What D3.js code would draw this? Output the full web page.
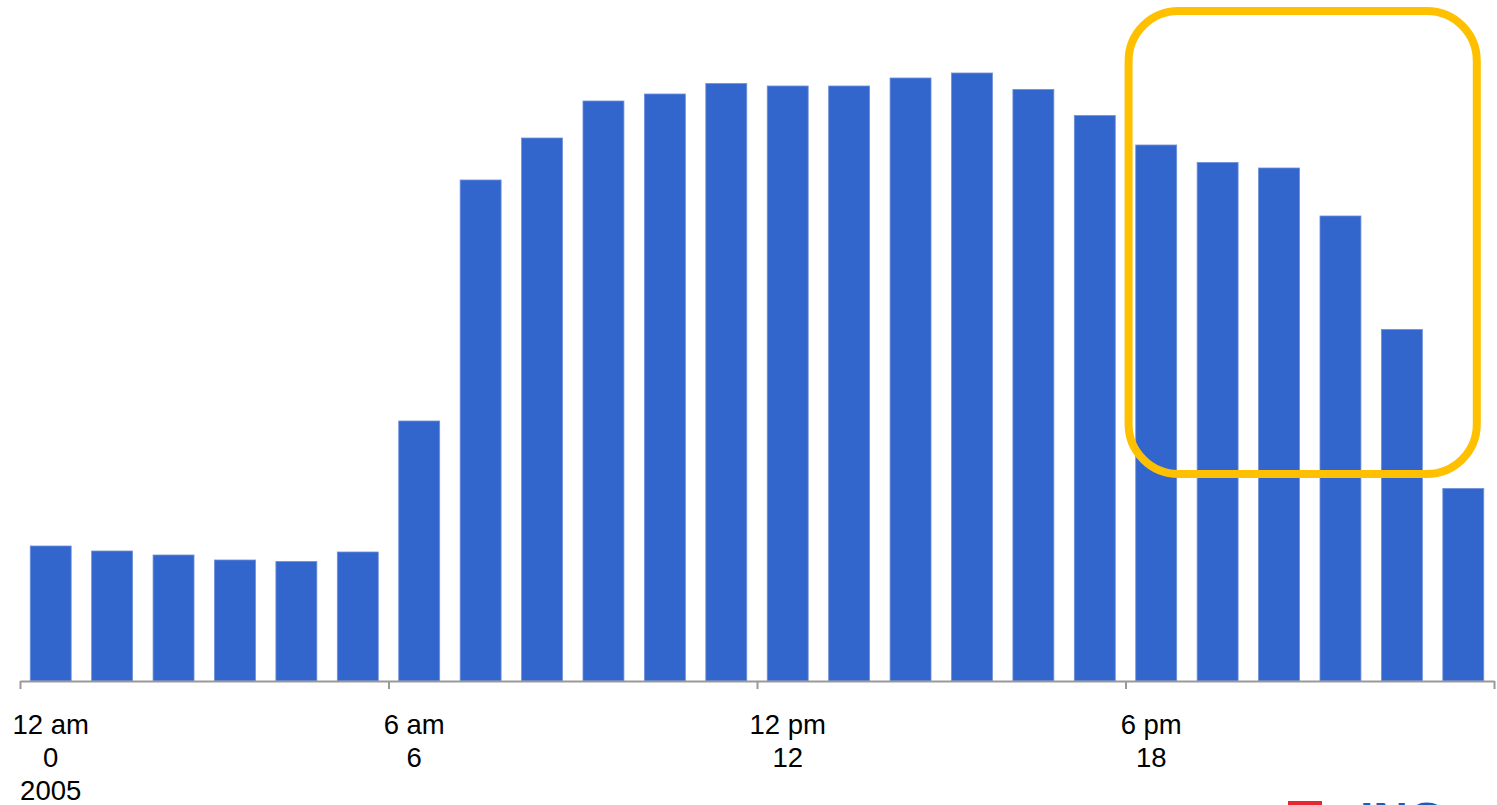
<!DOCTYPE html>
<html>
  <head>
    <meta charset="utf-8">
    <title></title>
    <script type="text/javascript" src="https://d3js.org/d3.v7.min.js"></script>
    <style media="screen">
      body { margin: 0; background: #fff; }
      svg { display: block; font-family: "Liberation Sans", Arial, sans-serif; }
    </style>
  </head>
  <body>

    <script type="text/javascript">

      // hour of day and traffic level per hour
      var hours = d3.range(0, 24);
      var values = [135, 130, 126, 121, 119.5, 129, 260, 501, 543, 580, 587, 597.5,
                    595, 595, 603, 608, 591.5, 565.5, 536, 518.5, 513, 465, 351.5, 192.5];
      var tickHours = [0, 6, 12, 18, 24];
      var tickLabels = [["12 am", "0", "2005"], ["6 am", "6"], ["12 pm", "12"], ["6 pm", "18"], []];
      // highlighted evening window, in hours
      var highlight = [18.05, 23.72];

      var w = 1497;
      var h = 805;
      var left = 20, right = 1494, base = 681;

      var svg = d3.select('body')
        .append('svg')
        .attr('width', w)
        .attr('height', h);

      var xscale = d3.scaleBand()
        .domain(hours)
        .range([left, right])
        .paddingInner(1 / 3)
        .paddingOuter(1 / 6);

      var hscale = d3.scaleLinear()
        .domain([0, 24])
        .range([left, right]);

      var yscale = d3.scaleLinear()
        .domain([0, 620])
        .range([base, 61]);

      svg.selectAll('rect.bar')
        .data(values)
        .enter()
        .append('rect')
        .attr('class', 'bar')
        .attr('x', function(d, i) { return xscale(hours[i]); })
        .attr('y', function(d) { return yscale(d); })
        .attr('width', xscale.bandwidth())
        .attr('height', function(d) { return yscale(0) - yscale(d); })
        .attr('fill', '#3366cc')
        .attr('stroke', '#6d8fdb')
        .attr('stroke-width', 0.8);

      // axis
      var xAxis = d3.axisBottom(hscale)
        .tickValues(tickHours)
        .tickSize(8)
        .tickSizeOuter(0)
        .tickFormat('');

      var ax = svg.append('g')
        .attr('class', 'x axis')
        .attr('transform', 'translate(0,' + base + ')')
        .call(xAxis);
      ax.select('.domain').attr('stroke', '#999').attr('stroke-width', 2);
      ax.selectAll('.tick line').attr('stroke', '#999').attr('stroke-width', 2);

      var lab = svg.selectAll('text.lab')
        .data(tickHours)
        .enter()
        .append('text')
        .attr('class', 'lab')
        .attr('text-anchor', 'middle')
        .attr('font-size', 27.5)
        .attr('fill', '#000');

      lab.each(function(d, i) {
        var t = d3.select(this);
        var cx = d < 24 ? xscale(d) + xscale.bandwidth() / 2 - (d % 12 == 6 ? 5 : 0) : hscale(d);
        tickLabels[i].forEach(function(s, j) {
          t.append('tspan')
            .attr('x', cx)
            .attr('y', 734 + j * 33)
            .text(s);
        });
      });

      // highlight box
      svg.append('rect')
        .attr('x', hscale(highlight[0]))
        .attr('y', yscale(620) - 50)
        .attr('width', hscale(highlight[1]) - hscale(highlight[0]))
        .attr('height', 474 - (yscale(620) - 50))
        .attr('rx', 50)
        .attr('ry', 50)
        .attr('fill', 'none')
        .attr('stroke', '#ffc000')
        .attr('stroke-width', 8);

      // logo cut off at the bottom edge
      svg.append('rect')
        .attr('x', 1288)
        .attr('y', 801)
        .attr('width', 34)
        .attr('height', 10)
        .attr('fill', '#e8262f');

      svg.append('text')
        .attr('x', 1360)
        .attr('y', 836)
        .attr('font-size', 48)
        .attr('font-weight', 'bold')
        .attr('fill', '#1a5fb4')
        .text('ING');

    </script>

  </body>
</html>
